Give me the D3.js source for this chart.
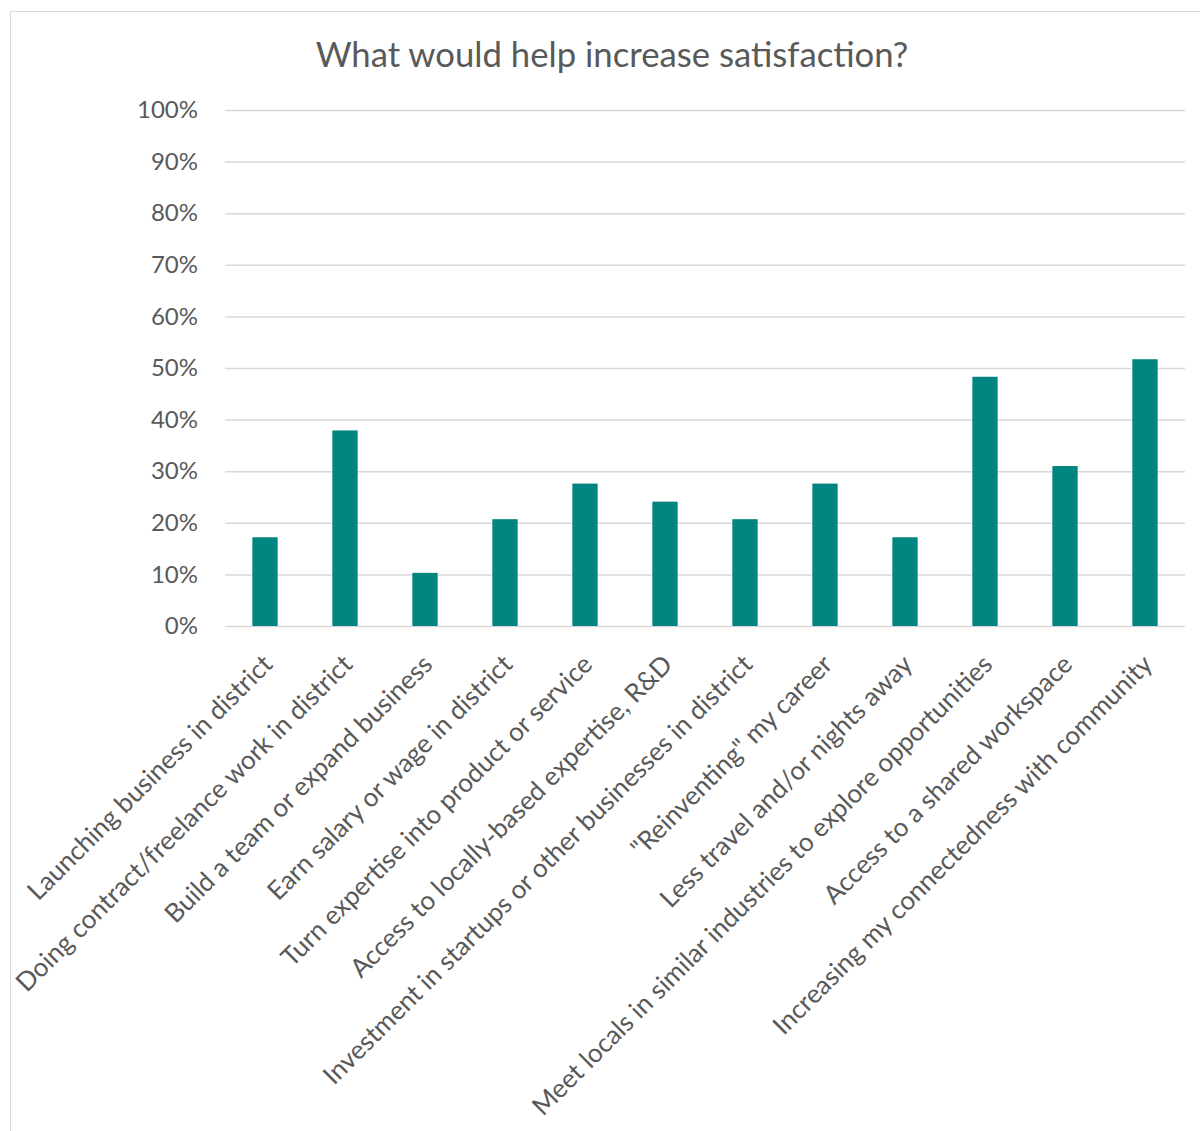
<!DOCTYPE html>
<html><head><meta charset="utf-8">
<script src="https://cdn.jsdelivr.net/npm/d3@7"></script>
<style>body{margin:0;background:#fff}svg{display:block}</style>
</head><body>
<script>
const categories = ["Launching business in district","Doing contract/freelance work in district","Build a team or expand business","Earn salary or wage in district","Turn expertise into product or service","Access to locally-based expertise, R&D","Investment in startups or other businesses in district","\"Reinventing\" my career","Less travel and/or nights away","Meet locals in similar industries to explore opportunities","Access to a shared workspace","Increasing my connectedness with community"];
const values = [0.172,0.379,0.103,0.207,0.276,0.241,0.207,0.276,0.172,0.483,0.310,0.517];
const yTicks = [0,0.1,0.2,0.3,0.4,0.5,0.6,0.7,0.8,0.9,1.0];
const title = "What would help increase satisfaction?";

const W=1200,H=1131;
const font="Lato, sans-serif";
const svg=d3.select("body").append("svg").attr("width",W).attr("height",H);
svg.append("rect").attr("x",10.5).attr("y",11.5).attr("width",W+20).attr("height",H+20).attr("fill","#fff").attr("stroke","#d9d9d9").attr("stroke-width",1);
const x=d3.scaleBand().domain(categories).range([225,1185]).paddingInner(0.684).paddingOuter(0.342);
const y=d3.scaleLinear().domain([0,1]).range([626,110]);

svg.append("text").attr("x",612).attr("y",67).attr("text-anchor","middle").attr("font-family",font).attr("font-size",34.7).attr("fill","#595959").text(title);

const gy=svg.append("g").attr("transform","translate(225,0)")
 .call(d3.axisLeft(y).tickValues(yTicks).tickFormat(d3.format(".0%")).tickSize(-960).tickPadding(27));
gy.select(".domain").remove();
gy.selectAll("line").attr("stroke","#d9d9d9").attr("stroke-width",1.5);
gy.selectAll("text").attr("font-family",font).attr("font-size",24).attr("fill","#595959");

svg.append("g").selectAll("rect").data(values).join("rect")
 .attr("x",(d,i)=>x(categories[i])).attr("width",x.bandwidth())
 .attr("y",d=>y(d)).attr("height",d=>y(0)-y(d)).attr("fill","#008580");

const gx=svg.append("g").attr("transform","translate(0,626)")
 .call(d3.axisBottom(x).tickSize(0).tickPadding(0));
gx.select(".domain").remove();
gx.selectAll("text").attr("font-family",font).attr("font-size",26).attr("fill","#595959")
 .attr("text-anchor","end").attr("dy",null).attr("y",0)
 .attr("transform","translate(9,40) rotate(-45)");
</script>
</body></html>
